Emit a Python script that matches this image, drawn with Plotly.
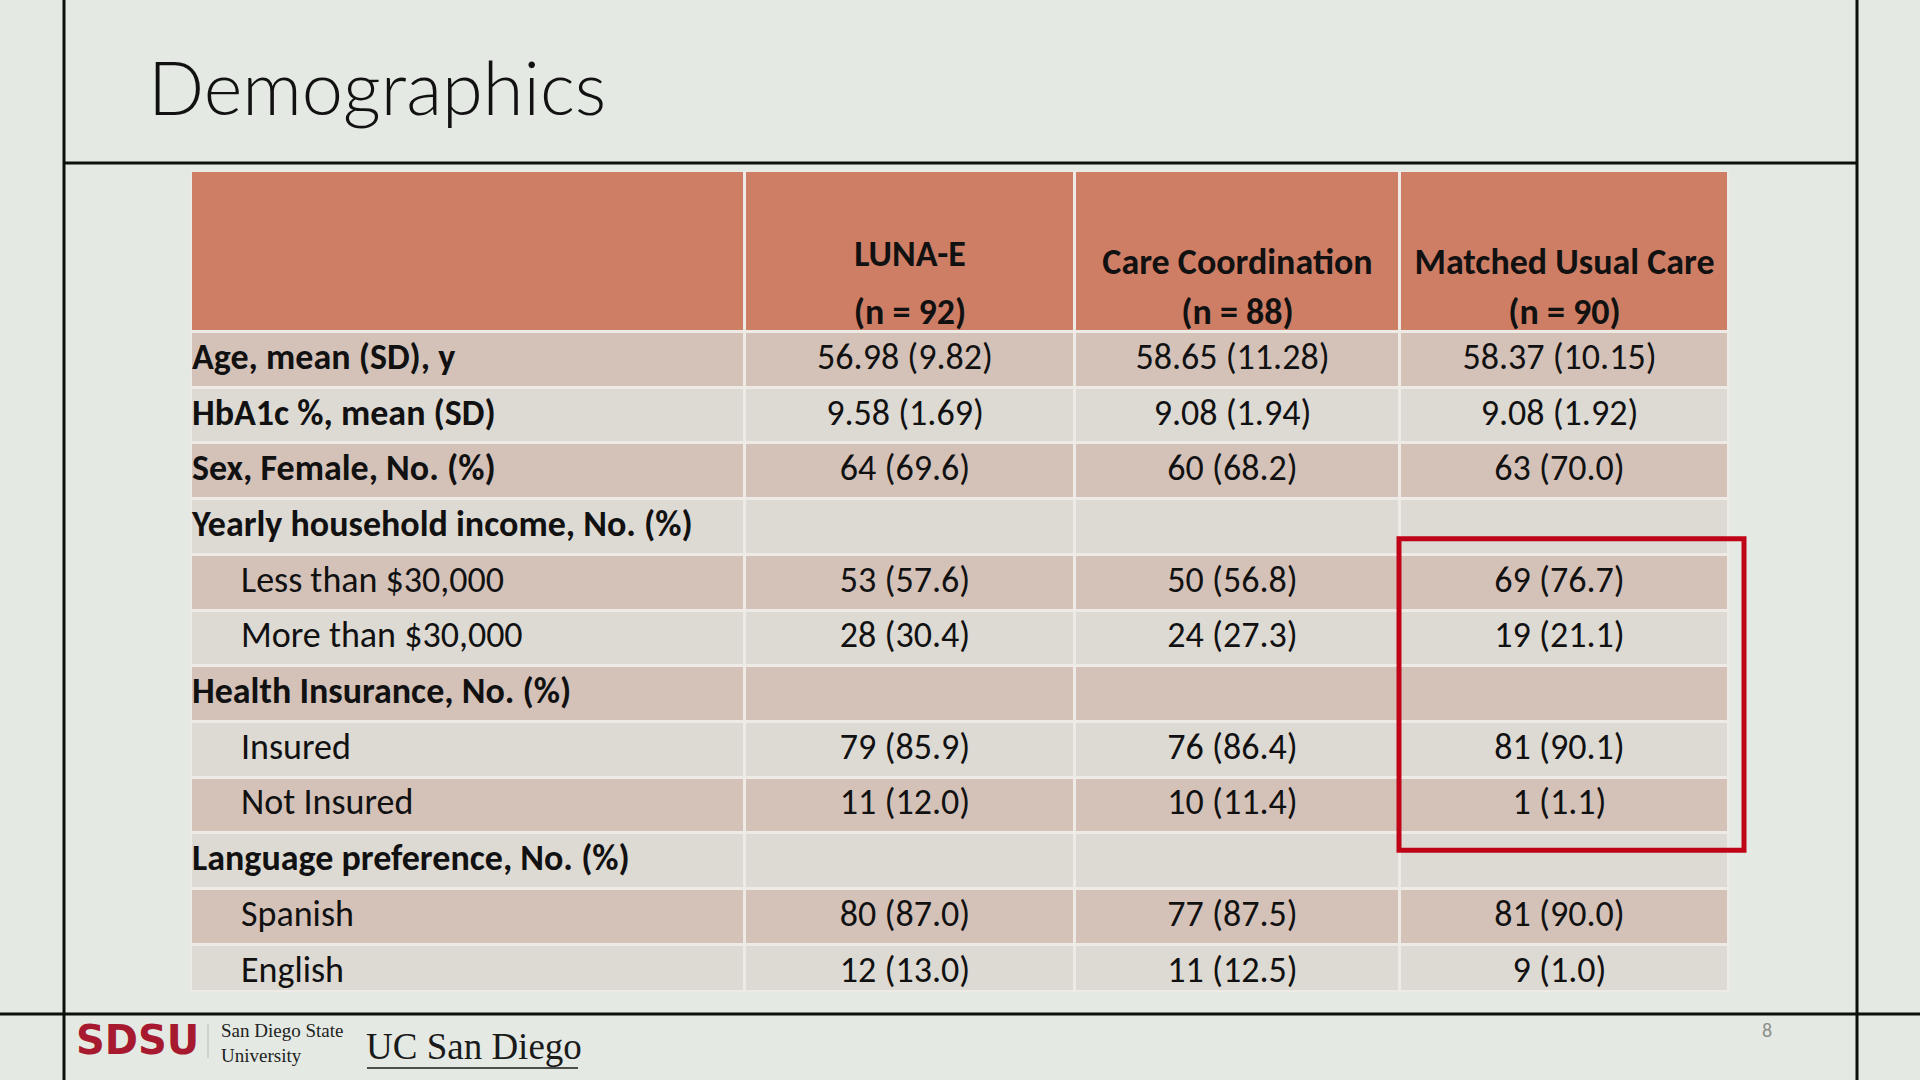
import plotly.graph_objects as go

# ---------------------------------------------------------
# data
# ---------------------------------------------------------
groups = ["LUNA-E", "Care Coordination", "Matched Usual Care"]
group_n = [92, 88, 90]

row_labels = [
    "Age, mean (SD), y",
    "HbA1c %, mean (SD)",
    "Sex, Female, No. (%)",
    "Yearly household income, No. (%)",
    "Less than $30,000",
    "More than $30,000",
    "Health Insurance, No. (%)",
    "Insured",
    "Not Insured",
    "Language preference, No. (%)",
    "Spanish",
    "English",
]
row_is_sub = [0, 0, 0, 0, 1, 1, 0, 1, 1, 0, 1, 1]

luna_e = ["56.98 (9.82)", "9.58 (1.69)", "64 (69.6)", "", "53 (57.6)", "28 (30.4)",
          "", "79 (85.9)", "11 (12.0)", "", "80 (87.0)", "12 (13.0)"]
care_coord = ["58.65 (11.28)", "9.08 (1.94)", "60 (68.2)", "", "50 (56.8)", "24 (27.3)",
              "", "76 (86.4)", "10 (11.4)", "", "77 (87.5)", "11 (12.5)"]
usual_care = ["58.37 (10.15)", "9.08 (1.92)", "63 (70.0)", "", "69 (76.7)", "19 (21.1)",
              "", "81 (90.1)", "1 (1.1)", "", "81 (90.0)", "9 (1.0)"]

# highlighted block: Matched Usual Care, income + insurance rows
highlight_col = 3
highlight_rows = (4, 8)

# ---------------------------------------------------------
# layout constants (slide is drawn in pixel units)
# ---------------------------------------------------------
colors = {
    'bg': '#E4E9E3',
    'header': '#CF7E66',
    'row_dark': '#D4C2B9',
    'row_light': '#DDD9D3',
    'gap': '#EEEBE6',
    'text': '#111111',
    'red': '#C00418',
    'sdsu': '#A6192E',
}
FONT = "Carlito, Lato, 'Open Sans', sans-serif"
TITLE_FONT = "'Lato Light', Carlito, Lato, sans-serif"
CELL_SIZE = 36

col_edges = [191, 745, 1075, 1400, 1729]
table_top = 171
header_h = 161
row_h = 55.7
table_bottom = 992  # last row is cut short by the slide footer
row_edges = [table_top] + [table_top + header_h + i * row_h for i in range(len(row_labels))] + [table_bottom]
row_mid = [table_top + header_h + (i + 0.5) * row_h for i in range(len(row_labels))]
col_mid = [(col_edges[i] + col_edges[i + 1]) / 2 for i in range(len(col_edges) - 1)]

fig = go.Figure()

# ---------------------------------------------------------
# table cells (heatmap bricks)
# ---------------------------------------------------------
z = [[2] * 4]
for i in range(len(row_labels)):
    z.append([1 if i % 2 == 0 else 0] * 4)

fig.add_shape(type="rect", x0=col_edges[0], x1=col_edges[-1], y0=row_edges[0], y1=row_edges[-1],
              fillcolor=colors['gap'], line_width=0, layer="below")

fig.add_trace(go.Heatmap(
    x=col_edges, y=row_edges, z=z,
    zmin=0, zmax=2,
    colorscale=[[0, colors['row_light']], [0.5, colors['row_dark']], [1, colors['header']]],
    xgap=3, ygap=3, showscale=False, hoverinfo="skip",
))

# header text
fig.add_trace(go.Scatter(
    x=col_mid[1:], y=[257, 265, 265], mode="text",
    text=[f"<b>{g}</b>" for g in groups],
    textposition="middle center",
    textfont=dict(family=FONT, size=CELL_SIZE, color=colors['text']),
    hoverinfo="skip",
))
fig.add_trace(go.Scatter(
    x=col_mid[1:], y=[315, 315, 315], mode="text",
    text=[f"<b>(n = {n})</b>" for n in group_n],
    textposition="middle center",
    textfont=dict(family=FONT, size=CELL_SIZE, color=colors['text']),
    hoverinfo="skip",
))

# row labels
fig.add_trace(go.Scatter(
    x=[col_edges[0] + 1 + 49 * s for s in row_is_sub], y=row_mid, mode="text",
    text=[lab if s else f"<b>{lab}</b>" for lab, s in zip(row_labels, row_is_sub)],
    textposition="middle right",
    textfont=dict(family=FONT, size=CELL_SIZE, color=colors['text']),
    hoverinfo="skip",
))

# values
for j, vals in enumerate([luna_e, care_coord, usual_care]):
    fig.add_trace(go.Scatter(
        x=[col_mid[j + 1] - 5] * len(vals), y=row_mid, mode="text",
        text=vals,
        textposition="middle center",
        textfont=dict(family=FONT, size=CELL_SIZE, color=colors['text']),
        hoverinfo="skip",
    ))

# red highlight box
fig.add_shape(type="rect",
              x0=col_edges[highlight_col] - 1, x1=col_edges[-1] + 15,
              y0=row_edges[highlight_rows[0] + 1] - 16, y1=row_edges[highlight_rows[1] + 2] + 17,
              line=dict(color=colors['red'], width=5), fillcolor="rgba(0,0,0,0)")

# ---------------------------------------------------------
# slide frame
# ---------------------------------------------------------
frame = dict(color="#0C110C", width=3)
fig.add_shape(type="line", x0=64, x1=64, y0=0, y1=1080, line=frame)
fig.add_shape(type="line", x0=1857, x1=1857, y0=0, y1=1080, line=frame)
fig.add_shape(type="line", x0=64, x1=1857, y0=163, y1=163, line=frame)
fig.add_shape(type="line", x0=0, x1=1920, y0=1014, y1=1014, line=frame)

fig.add_annotation(x=146, y=86, text="Demographics", showarrow=False,
                   xanchor="left", yanchor="middle",
                   font=dict(family=TITLE_FONT, size=74, color="#111111", weight=300))

# footer logos
fig.add_annotation(x=74, y=1040, text="<b>SDSU</b>", showarrow=False,
                   xanchor="left", yanchor="middle",
                   font=dict(family="DejaVu Sans", size=40, color=colors['sdsu']))
fig.add_shape(type="line", x0=208, x1=208, y0=1024, y1=1058, line=dict(color="#B8BDB8", width=1))
fig.add_annotation(x=219, y=1043, text="San Diego State<br>University", showarrow=False,
                   xanchor="left", yanchor="middle", align="left",
                   font=dict(family="Liberation Serif", size=19, color="#222222"))
fig.add_annotation(x=364, y=1046, text="UC San Diego", showarrow=False,
                   xanchor="left", yanchor="middle",
                   font=dict(family="Liberation Serif", size=37, color="#1A1A1A"))
fig.add_shape(type="line", x0=367, x1=578, y0=1068, y1=1068, line=dict(color="#1A1A1A", width=1.5))
fig.add_annotation(x=1767, y=1030, text="8", showarrow=False,
                   font=dict(family=FONT, size=20, color="#8A8F8A"))

fig.update_layout(
    width=1920, height=1080,
    margin=dict(l=0, r=0, t=0, b=0),
    paper_bgcolor=colors['bg'],
    plot_bgcolor=colors['bg'],
    showlegend=False,
    xaxis=dict(range=[0, 1920], visible=False, fixedrange=True),
    yaxis=dict(range=[1080, 0], visible=False, fixedrange=True),
)

fig.write_html("out.html", config={"displayModeBar": False},
               post_script="document.body.style.margin = '0px';")
